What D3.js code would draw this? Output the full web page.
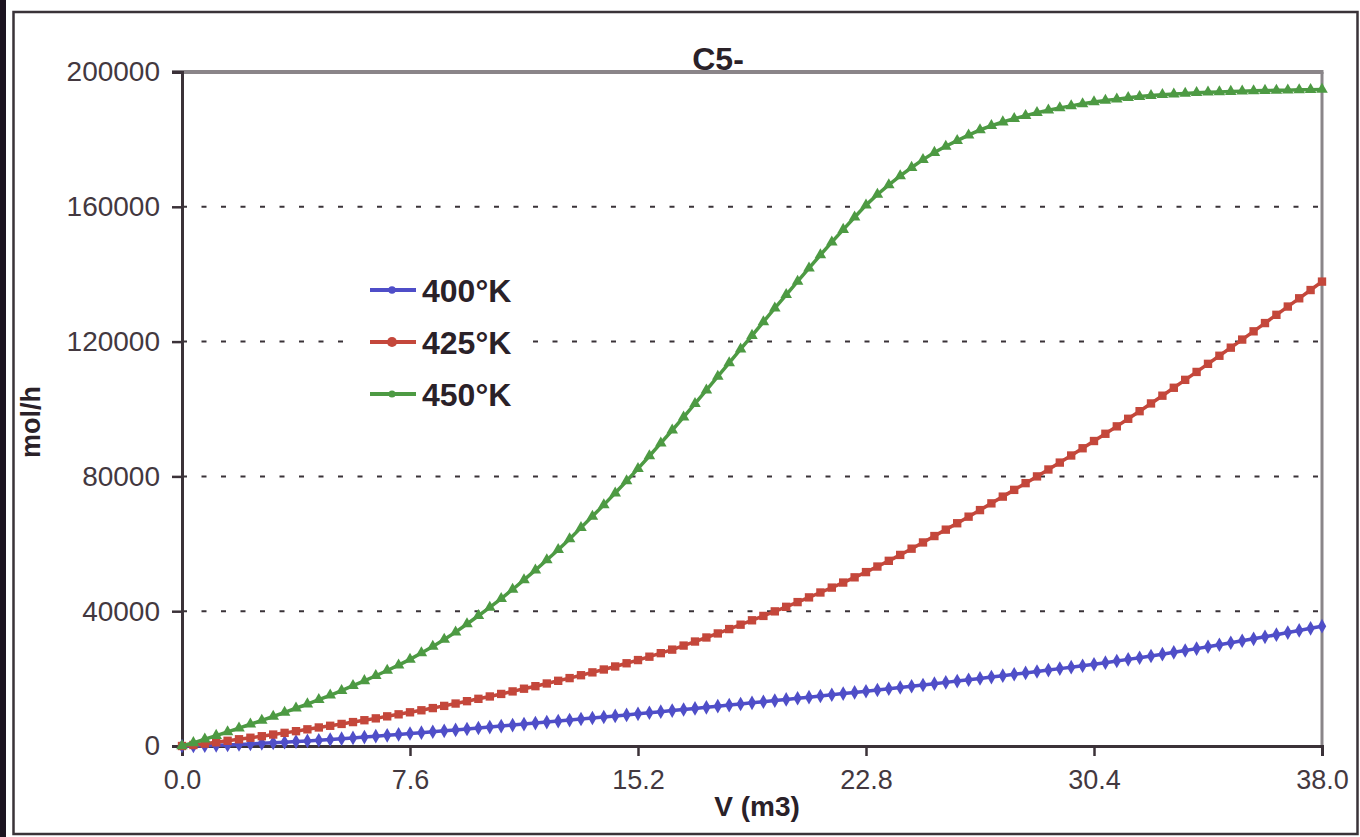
<!DOCTYPE html>
<html>
<head>
<meta charset="utf-8">
<script src="https://cdn.jsdelivr.net/npm/d3@7/dist/d3.min.js"></script>
<style>
  html, body { margin: 0; padding: 0; background: #ffffff; }
  svg { display: block; }
  text { font-family: "Liberation Sans", Arial, sans-serif; }
</style>
</head>
<body>
<svg id="chart" width="1360" height="837"></svg>
<script>
// Reactor volume grid (m3): 101 points, 0.38 m3 apart
const volumeStep = 0.38;
const pointCount = 101;

// Molar flow of C5- (mol/h) along the reactor, one series per temperature
const flow400K = [
  0, 30, 100, 190, 310, 450, 610, 780, 950, 1120, 1300,
  1510, 1720, 1940, 2170, 2400, 2650, 2910, 3170, 3430, 3700,
  3960, 4230, 4500, 4770, 5050, 5330, 5620, 5910, 6200, 6500,
  6800, 7100, 7400, 7700, 8000, 8300, 8610, 8920, 9230, 9550,
  9870, 10190, 10510, 10830, 11150, 11480, 11810, 12140, 12470, 12800,
  13140, 13480, 13820, 14160, 14500, 14850, 15200, 15550, 15900, 16250,
  16610, 16980, 17350, 17720, 18100, 18490, 18880, 19270, 19660, 20050,
  20460, 20870, 21280, 21690, 22100, 22530, 22960, 23390, 23820, 24250,
  24730, 25220, 25710, 26200, 26700, 27250, 27800, 28350, 28900, 29450,
  30040, 30630, 31220, 31810, 32400, 33030, 33660, 34290, 34920, 35550
];
const flow425K = [
  0, 300, 700, 1100, 1550, 2000, 2450, 2900, 3400, 3900, 4400,
  4950, 5500, 6000, 6550, 7100, 7650, 8200, 8800, 9400, 10000,
  10600, 11250, 11900, 12600, 13300, 14000, 14700, 15450, 16200, 17000,
  17750, 18550, 19350, 20150, 21000, 21850, 22700, 23600, 24550, 25500,
  26500, 27550, 28600, 29800, 31000, 32200, 33400, 34700, 36000, 37300,
  38600, 39950, 41300, 42700, 44100, 45550, 47000, 48500, 50050, 51600,
  53250, 54950, 56700, 58550, 60400, 62300, 64200, 66100, 68050, 70000,
  72000, 74000, 76000, 78000, 80000, 82050, 84100, 86200, 88350, 90500,
  92650, 94850, 97100, 99350, 101650, 103950, 106300, 108650, 111000, 113400,
  115800, 118200, 120600, 123050, 125500, 127950, 130400, 132850, 135300, 137800
];
const flow450K = [
  0, 950, 2000, 3100, 4200, 5300, 6450, 7600, 8750, 9950, 11200,
  12450, 13750, 15050, 16450, 17900, 19350, 20850, 22400, 24000, 25700,
  27600, 29550, 31600, 33800, 36200, 38650, 41150, 43750, 46450, 49300,
  52200, 55200, 58250, 61450, 64800, 68150, 71550, 75050, 78650, 82300,
  86050, 89850, 93700, 97600, 101600, 105600, 109650, 113700, 117750, 121800,
  125850, 129900, 133900, 137850, 141800, 145700, 149500, 153250, 156900, 160500,
  163650, 166500, 169150, 171650, 174000, 176100, 177950, 179650, 181250, 182800,
  184050, 185150, 186150, 187050, 187900, 188650, 189350, 189950, 190550, 191100,
  191550, 191950, 192350, 192700, 193000, 193250, 193450, 193650, 193850, 194000,
  194100, 194200, 194300, 194400, 194500, 194550, 194600, 194700, 194750, 194800
];

const seriesNames = ["400°K", "425°K", "450°K"];
const xTickValues = [0, 7.6, 15.2, 22.8, 30.4, 38.0];
const yTickValues = [0, 40000, 80000, 120000, 160000, 200000];

const seriesStyle = [
  { values: flow400K, color: "#4f4ec8", symbol: d3.symbolDiamond,  size: 62, legendSize: 44 },
  { values: flow425K, color: "#c4473b", symbol: d3.symbolSquare,   size: 70, legendSize: 80 },
  { values: flow450K, color: "#4d9a43", symbol: d3.symbolTriangle, size: 58, legendSize: 40 }
];

const svg = d3.select("#chart");
const W = 1360, H = 837;
const plot = { left: 182, right: 1322, top: 72, bottom: 746 };
const inkColor = "#3b3238";
const frameGray = "#8a8589";

// Page background and outer frame
svg.append("rect").attr("x", 0).attr("y", 0).attr("width", W).attr("height", H).attr("fill", "#ffffff");
svg.append("rect").attr("x", 0).attr("y", 0).attr("width", 6).attr("height", H).attr("fill", "#1c1420");
svg.append("rect")
  .attr("x", 13.5).attr("y", 12).attr("width", 1344).attr("height", 822)
  .attr("fill", "none").attr("stroke", "#3a3338").attr("stroke-width", 2.5);

const x = d3.scaleLinear().domain([0, 38]).range([plot.left, plot.right]);
const y = d3.scaleLinear().domain([0, 200000]).range([plot.bottom, plot.top]);

// Dotted horizontal gridlines
svg.append("g")
  .selectAll("line")
  .data(yTickValues.filter(v => v > 0 && v < 200000))
  .join("line")
  .attr("x1", plot.left).attr("x2", plot.right)
  .attr("y1", d => y(d)).attr("y2", d => y(d))
  .attr("stroke", "#3a3338").attr("stroke-width", 2)
  .attr("stroke-dasharray", "5,14.5");

// Plot frame: grey top and right, dark axes on left and bottom
svg.append("line").attr("x1", plot.left - 10).attr("x2", plot.right + 1.5)
  .attr("y1", plot.top).attr("y2", plot.top)
  .attr("stroke", frameGray).attr("stroke-width", 4);
svg.append("line").attr("x1", plot.right).attr("x2", plot.right)
  .attr("y1", plot.top).attr("y2", plot.bottom)
  .attr("stroke", frameGray).attr("stroke-width", 3);

// Y axis
const yAxis = d3.axisLeft(y).tickValues(yTickValues).tickSize(10).tickPadding(12)
  .tickFormat(d3.format("d"));
const gy = svg.append("g").attr("transform", `translate(${plot.left},0)`).call(yAxis);
gy.select(".domain").attr("stroke", inkColor).attr("stroke-width", 3);
gy.selectAll(".tick line").attr("stroke", inkColor).attr("stroke-width", 2.5);
gy.selectAll(".tick text").attr("fill", "#43383f").attr("font-size", 28)
  .attr("font-family", "Liberation Sans, Arial, sans-serif");

// X axis
const xAxis = d3.axisBottom(x).tickValues(xTickValues).tickSize(10).tickPadding(14)
  .tickFormat(d3.format(".1f"));
const gx = svg.append("g").attr("transform", `translate(0,${plot.bottom})`).call(xAxis);
gx.select(".domain").attr("stroke", inkColor).attr("stroke-width", 3);
gx.selectAll(".tick line").attr("stroke", inkColor).attr("stroke-width", 2.5);
gx.selectAll(".tick text").attr("fill", "#43383f").attr("font-size", 27)
  .attr("font-family", "Liberation Sans, Arial, sans-serif");

// Series lines and markers
const line = d3.line().x((d, i) => x(i * volumeStep)).y(d => y(d));
seriesStyle.forEach(s => {
  const pts = s.values.slice(0, pointCount);
  svg.append("path").datum(pts)
    .attr("d", line).attr("fill", "none")
    .attr("stroke", s.color).attr("stroke-width", 3.5);
  svg.append("g").selectAll("path")
    .data(pts)
    .join("path")
    .attr("d", d3.symbol().type(s.symbol).size(s.size))
    .attr("transform", (d, i) => `translate(${x(i * volumeStep)},${y(d)})`)
    .attr("fill", s.color);
});

// Title
svg.append("text").attr("x", 718).attr("y", 70).attr("text-anchor", "middle")
  .attr("font-size", 32).attr("font-weight", "bold").attr("fill", "#2a2128")
  .text("C5-");

// Axis titles
svg.append("text").attr("x", 757).attr("y", 816).attr("text-anchor", "middle")
  .attr("font-size", 28).attr("font-weight", "bold").attr("fill", "#2a2128")
  .text("V (m3)");
svg.append("text")
  .attr("transform", "translate(40,422) rotate(-90)")
  .attr("text-anchor", "middle")
  .attr("font-size", 27).attr("font-weight", "bold").attr("fill", "#2a2128")
  .text("mol/h");

// Legend
const legend = svg.append("g");
legend.append("rect").attr("x", 352).attr("y", 266).attr("width", 180).attr("height", 150)
  .attr("fill", "#ffffff");
const legendRows = [290, 342, 394];
seriesStyle.forEach((s, k) => {
  const ly = legendRows[k];
  legend.append("line").attr("x1", 370).attr("x2", 416).attr("y1", ly).attr("y2", ly)
    .attr("stroke", s.color).attr("stroke-width", 4);
  legend.append("path")
    .attr("d", d3.symbol().type(d3.symbolCircle).size(s.legendSize))
    .attr("transform", `translate(392,${ly})`)
    .attr("fill", s.color);
  legend.append("text").attr("x", 422).attr("y", ly + 12)
    .attr("font-size", 32).attr("font-weight", "bold").attr("fill", "#2a2128")
    .text(seriesNames[k]);
});
</script>
</body>
</html>
